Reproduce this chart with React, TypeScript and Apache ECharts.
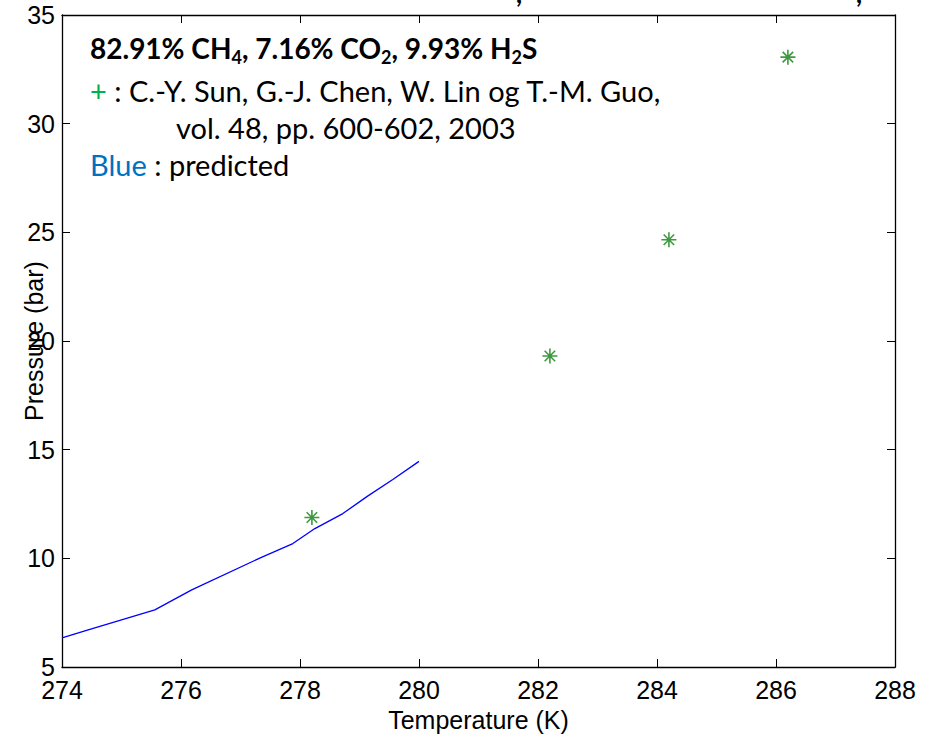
import React, { useEffect, useRef } from "react";
import * as echarts from "echarts";

const tempPredicted = [274.0, 274.44, 275.56, 276.18, 277.38, 277.88, 278.25, 278.72, 279.13, 279.56, 280.0];
const pressurePredicted = [6.34, 6.71, 7.63, 8.55, 10.08, 10.68, 11.37, 12.06, 12.85, 13.63, 14.46];
const tempExperimental = [278.2, 282.2, 284.2, 286.2];
const pressureExperimental = [11.88, 19.31, 24.66, 33.06];

const xMin = 274, xMax = 288, xStep = 2;
const yMin = 5, yMax = 35, yStep = 5;

const ASTERISK = "path://M0,-10L0,10M-10,0L10,0M-7,-7L7,7M-7,7L7,-7";

export default function App() {
  const ref = useRef<HTMLDivElement>(null);
  useEffect(() => {
    if (!ref.current) return;
    const chart = echarts.init(ref.current, undefined, { renderer: "svg" });
    const axisLine = { show: true, lineStyle: { color: "#000", width: 1.3 } };
    const tick = { show: true, inside: true, length: 8, lineStyle: { color: "#000", width: 1 } };
    const labelFont = { fontFamily: "Liberation Sans, Arial, sans-serif", fontSize: 25, color: "#000" };
    const textFont = "Lato, 'Open Sans', sans-serif";
    const fs = 29;
    const fb = 28;
    chart.setOption({
      animation: false,
      backgroundColor: "#fff",
      grid: { left: 62, right: 43, top: 15, bottom: 72, containLabel: false, outerBoundsMode: "none" },
      xAxis: [
        {
          type: "value", min: xMin, max: xMax, interval: xStep,
          axisLine, axisTick: tick, splitLine: { show: false },
          axisLabel: { ...labelFont, margin: 10 },
          name: "Temperature (K)", nameLocation: "middle", nameGap: 40, nameMoveOverlap: false,
          nameTextStyle: { ...labelFont },
        },
        {
          type: "value", position: "top", min: xMin, max: xMax, interval: xStep,
          axisLine, axisTick: tick, splitLine: { show: false }, axisLabel: { show: false },
        },
      ],
      yAxis: [
        {
          type: "value", min: yMin, max: yMax, interval: yStep,
          axisLine, axisTick: tick, splitLine: { show: false },
          axisLabel: { ...labelFont, margin: 7 },
          name: "Pressure (bar)", nameLocation: "middle", nameGap: 16, nameRotate: 90, nameMoveOverlap: false,
          nameTextStyle: { ...labelFont },
        },
        {
          type: "value", position: "right", min: yMin, max: yMax, interval: yStep,
          axisLine, axisTick: tick, splitLine: { show: false }, axisLabel: { show: false },
        },
      ],
      series: [
        {
          type: "line",
          data: tempPredicted.map((t, i) => [t, pressurePredicted[i]]),
          showSymbol: false, symbol: "none",
          lineStyle: { color: "#0000ff", width: 1.3 },
          z: 2,
        },
        {
          type: "scatter",
          data: tempExperimental.map((t, i) => [t, pressureExperimental[i]]),
          symbol: ASTERISK, symbolSize: 15,
          itemStyle: { color: "rgba(0,0,0,0)", borderColor: "#0c800c", borderWidth: 1.6 },
          z: 3,
        },
      ],
      graphic: [
        {
          type: "text", left: 90, top: 34, z: 10,
          style: {
            text: "{b|82.91% CH}{s|4}{b|, 7.16% CO}{s|2}{b|, 9.93% H}{s|2}{b|S}",
            rich: {
              b: { fontFamily: textFont, fontWeight: "bold", fontSize: fb, fill: "#000", lineHeight: 35 },
              s: { fontFamily: textFont, fontWeight: "bold", fontSize: 18, fill: "#000", lineHeight: 18, verticalAlign: "bottom" },
            },
          },
        },
        {
          type: "text", left: 90, top: 76, z: 10,
          style: {
            text: "{g|+}{k| : C.-Y. Sun, G.-J. Chen, W. Lin og T.-M. Guo,}",
            rich: {
              g: { fontFamily: textFont, fontSize: fs, fill: "#00b050" },
              k: { fontFamily: textFont, fontSize: fs, fill: "#000" },
            },
          },
        },
        {
          type: "text", left: 176, top: 113, z: 10,
          style: { text: "vol. 48, pp. 600-602, 2003", fontFamily: textFont, fontSize: fs, fill: "#000" },
        },
        {
          type: "text", left: 90, top: 150, z: 10,
          style: {
            text: "{c|Blue}{k| : predicted}",
            rich: {
              c: { fontFamily: textFont, fontSize: fs, fill: "#0070c0" },
              k: { fontFamily: textFont, fontSize: fs, fill: "#000" },
            },
          },
        },
        {
          type: "text", x: 516, y: -7, z: 10,
          style: { text: ",", fontFamily: textFont, fontWeight: "bold", fontSize: 26, fill: "#000", verticalAlign: "middle" },
        },
        {
          type: "text", x: 856, y: -7, z: 10,
          style: { text: ",", fontFamily: textFont, fontWeight: "bold", fontSize: 26, fill: "#000", verticalAlign: "middle" },
        },
      ],
    });
    return () => chart.dispose();
  }, []);
  return (
    <div
      ref={ref}
      style={{ position: "absolute", left: 0, top: 0, width: 938, height: 739, background: "#fff" }}
    />
  );
}
